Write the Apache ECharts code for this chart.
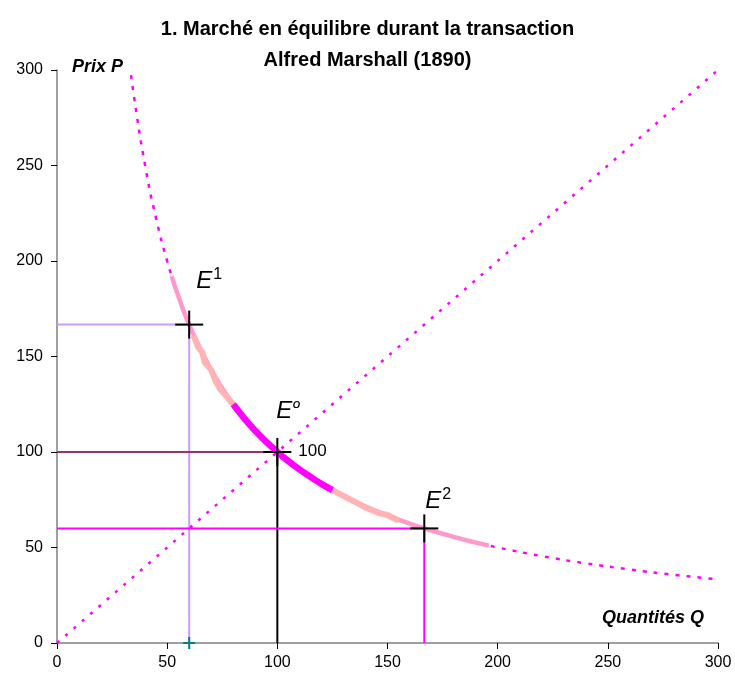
<!DOCTYPE html>
<html><head><meta charset="utf-8">
<script src="https://cdn.jsdelivr.net/npm/echarts@6/dist/echarts.min.js"></script>
<style>html,body{margin:0;padding:0;background:#fff}#c{width:735px;height:681px}</style>
</head><body><div id="c"></div>
<script>
// ---- data ----
var demandQ = [33, 35, 40, 45, 50, 55, 60, 70, 80, 90, 100, 110, 120, 130, 140, 150, 160, 170, 180, 190, 200, 220, 240, 260, 280, 300];
var demandP = [303, 285.7, 250, 222.2, 200, 181.8, 166.7, 142.9, 125, 111.1, 100, 90.9, 83.3, 76.9, 71.4, 66.7, 62.5, 58.8, 55.6, 52.6, 50, 45.5, 41.7, 38.5, 35.7, 33.3];
var supplyQ = [0, 300];
var supplyP = [0, 300];
var pinkQ = [52, 55, 60, 70, 80, 90, 100, 110, 125, 140, 160, 180, 196];
var pinkP = [192, 181.8, 166.7, 142.9, 125, 111.1, 100, 90.9, 80, 71.4, 62.5, 55.6, 51];
var salmon1Q = [62, 64, 66, 67, 70, 72, 74, 77, 80];
var salmon1P = [161, 155, 152, 147, 143, 137, 133, 129, 125];
var salmon2Q = [125, 130, 135, 140, 146, 150, 155];
var salmon2P = [80, 77, 74, 71, 68, 67, 64];
var magentaQ = [80, 85, 90, 95, 100, 105, 110, 115, 120, 125];
var magentaP = [125, 117.6, 111.1, 105.3, 100, 95.2, 90.9, 87, 83.3, 80];
var eqNames = ['E1', 'E0', 'E2'];
var eqQ = [60, 100, 166.7];
var eqP = [166.7, 100, 60];
var xTicks = [0, 50, 100, 150, 200, 250, 300];
var yTicks = [0, 50, 100, 150, 200, 250, 300];

function pts(q, p) { return q.map(function (v, i) { return [v, p[i]]; }); }

var FONT = "'Liberation Sans Narrow', 'Arial Narrow', 'Liberation Sans', Arial, sans-serif";
var chart = echarts.init(document.getElementById('c'));

function seg(data, color, width, type, z) {
  return { type: 'line', data: data, symbol: 'none', smooth: false, z: z || 2, silent: true,
    lineStyle: { color: color, width: width, type: type || 'solid', cap: 'butt', join: 'round' } };
}
function crossSeries(data, half, color, width) {
  return { type: 'custom', data: data, z: 10, silent: true,
    renderItem: function (params, api) {
      var c = api.coord([api.value(0), api.value(1)]);
      return { type: 'group', children: [
        { type: 'line', shape: { x1: c[0] - half, y1: c[1], x2: c[0] + half, y2: c[1] }, style: { stroke: color, lineWidth: width } },
        { type: 'line', shape: { x1: c[0], y1: c[1] - half, x2: c[0], y2: c[1] + half }, style: { stroke: color, lineWidth: width } }
      ] };
    } };
}

var series = [
  seg([[0, eqP[0]], [eqQ[0], eqP[0]], [eqQ[0], 0]], '#cc99ff', 2, 'solid', 1),
  seg([[0, eqP[1]], [eqQ[1], eqP[1]]], '#993366', 2, 'solid', 1),
  seg([[eqQ[1], eqP[1]], [eqQ[1], 0]], '#000000', 2, 'solid', 1),
  seg([[0, eqP[2]], [eqQ[2], eqP[2]], [eqQ[2], 0]], '#ff00ff', 2, 'solid', 1),
  seg(pts(supplyQ, supplyP), '#ff00ff', 2.5, [3, 8], 2),
  Object.assign(seg(pts(demandQ, demandP), '#ff00ff', 2.5, [4, 7], 2), { smooth: true }),
  Object.assign(seg(pts(pinkQ, pinkP), '#ff99cc', 4.5, 'solid', 3), { smooth: true }),
  seg(pts(salmon1Q, salmon1P), '#ffb3b3', 6, 'solid', 4),
  seg(pts(salmon2Q, salmon2P), '#ffb3b3', 6, 'solid', 4),
  Object.assign(seg(pts(magentaQ, magentaP), '#ff00ff', 6.5, 'solid', 5), { smooth: true }),
  crossSeries(pts(eqQ, eqP), 14, '#000', 2),
  crossSeries([[eqQ[0], 0]], 6, '#008080', 2),
  { type: 'scatter', symbolSize: 0, z: 11, silent: true, itemStyle: { opacity: 1 },
    data: [
      { value: [eqQ[0], eqP[0]], label: { formatter: '{e|E}{s|1}', offset: [7, -43] } },
      { value: [eqQ[1], eqP[1]], label: { formatter: '{e|E}{o|º}', offset: [-1, -41] } },
      { value: [eqQ[2], eqP[2]], label: { formatter: '{e|E}{s|2}', offset: [1, -27] } },
      { value: [eqQ[1], eqP[1]], label: { formatter: '{n|100}', offset: [21, -1] } }
    ],
    label: { show: true, position: 'inside', align: 'left', verticalAlign: 'middle', color: '#000', opacity: 1,
      textBorderWidth: 0,
      rich: {
        e: { fontFamily: FONT, fontSize: 24, fontStyle: 'italic', color: '#000', textBorderWidth: 0 },
        s: { fontFamily: FONT, fontSize: 16, color: '#000', padding: [0, 0, 14, 1], textBorderWidth: 0 },
        o: { fontFamily: FONT, fontSize: 19, fontStyle: 'italic', color: '#000', padding: [0, 0, 4, 0], textBorderWidth: 0 },
        n: { fontFamily: FONT, fontSize: 17, color: '#000', textBorderWidth: 0 }
      } } }
];

chart.setOption({
  animation: false,
  backgroundColor: '#fff',
  title: { text: '1. Marché en équilibre durant la transaction\nAlfred Marshall (1890)', left: 'center', top: 9,
    textStyle: { fontFamily: FONT, fontSize: 20, fontWeight: 'bold', color: '#000', lineHeight: 31 } },
  grid: { left: 57, right: 17, top: 70, bottom: 38, containLabel: false },
  xAxis: { type: 'value', min: 0, max: 300, interval: 50,
    axisLine: { show: true, lineStyle: { color: '#808080', width: 1.5 } },
    axisTick: { show: true, length: 6, lineStyle: { color: '#000' } },
    splitLine: { show: false },
    axisLabel: { margin: 12, fontFamily: FONT, fontSize: 16, color: '#000',
      formatter: function (v) { return xTicks.indexOf(v) >= 0 ? String(v) : ''; } } },
  yAxis: { type: 'value', min: 0, max: 300, interval: 50,
    axisLine: { show: true, lineStyle: { color: '#808080', width: 1.5 } },
    axisTick: { show: true, length: 6, lineStyle: { color: '#000' } },
    splitLine: { show: false },
    axisLabel: { margin: 14, fontFamily: FONT, fontSize: 16, color: '#000',
      formatter: function (v) { return yTicks.indexOf(v) >= 0 ? String(v) : ''; } } },
  graphic: [
    { type: 'text', left: 72, top: 58, style: { text: 'Prix P', fontFamily: FONT, fontSize: 18, fontStyle: 'italic', fontWeight: 'bold', fill: '#000' } },
    { type: 'text', left: 602, top: 609, style: { text: 'Quantités Q', fontFamily: FONT, fontSize: 18, fontStyle: 'italic', fontWeight: 'bold', fill: '#000' } }
  ],
  series: series
});
</script></body></html>
